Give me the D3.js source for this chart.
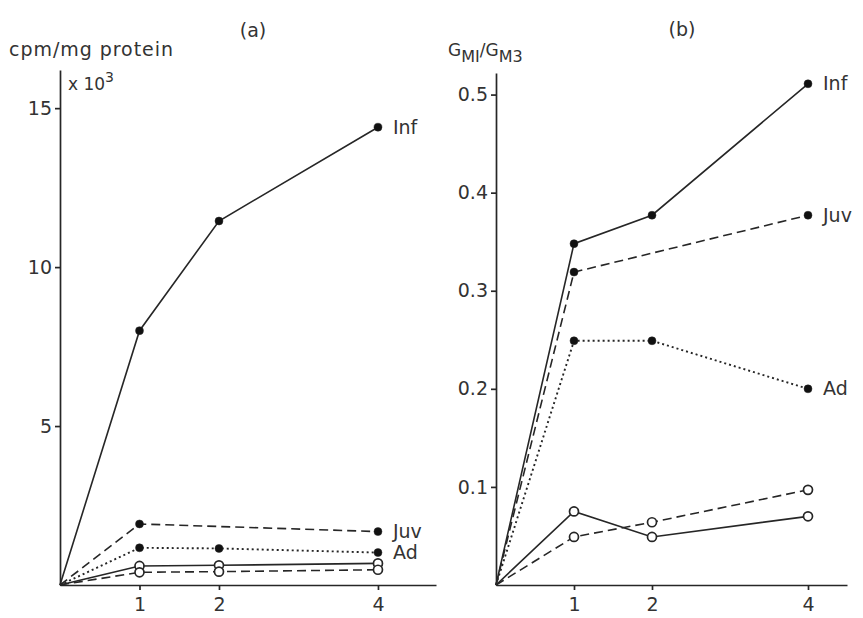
<!DOCTYPE html>
<html>
<head>
<meta charset="utf-8">
<script src="https://cdn.jsdelivr.net/npm/d3@7"></script>
<style>
  body { margin: 0; background: #fff; }
  svg { font-family: "DejaVu Sans", sans-serif; }
</style>
</head>
<body>
<div id="chart"></div>
<script>
// time points
const days = [0, 1, 2, 4];
const daysJuv = [0, 1, 4];
const xTicks = [1, 2, 4];

// (a) cpm/mg protein x 10^3
const infA = [0, 8.0, 11.45, 14.4];
const juvA = [0, 1.92, 1.68];
const adA = [0, 1.17, 1.15, 1.02];
const openSolidA = [0, 0.6, 0.62, 0.68];
const openDashA = [0, 0.4, 0.42, 0.48];
const yTicksA = [5, 10, 15];

// (b) GMI/GM3
const infB = [0, 0.348, 0.377, 0.511];
const juvB = [0, 0.319, 0.377];
const adB = [0, 0.249, 0.249, 0.200];
const openSolidB = [0, 0.075, 0.049, 0.070];
const openDashB = [0, 0.049, 0.064, 0.097];
const yTicksB = [0.1, 0.2, 0.3, 0.4, 0.5];

const width = 863, height = 618;
const ink = "#262626";

const svg = d3.select("#chart").append("svg")
  .attr("width", width).attr("height", height);

function panel(opt) {
  const x = d3.scaleLinear().domain([0, opt.xMax]).range(opt.xRange);
  const y = d3.scaleLinear().domain([0, opt.yMax]).range([585, opt.yTop]);
  const g = svg.append("g");

  const xAxis = g.append("g")
    .attr("transform", "translate(0,585)")
    .call(d3.axisBottom(x).tickValues(xTicks).tickSize(5).tickSizeOuter(0).tickPadding(8)
      .tickFormat(d3.format("d")));
  const yAxis = g.append("g")
    .attr("transform", "translate(" + opt.xRange[0] + ",0)")
    .call(d3.axisLeft(y).tickValues(opt.yTicks).tickSize(5).tickSizeOuter(0).tickPadding(3)
      .tickFormat(opt.fmt));
  [xAxis, yAxis].forEach(a => {
    a.attr("font-family", null).attr("font-size", null);
    a.selectAll("path, line").attr("stroke", ink).attr("stroke-width", 1.7);
    a.selectAll("text").attr("fill", "#333").style("font-size", "19px");
  });

  const line = d3.line().x(d => x(d[0])).y(d => y(d[1]));

  opt.series.forEach(s => {
    const pts = s.t.map((t, i) => [t, s.v[i]]);
    g.append("path")
      .datum(pts)
      .attr("d", line)
      .attr("fill", "none")
      .attr("stroke", ink)
      .attr("stroke-width", s.dash === "2,3" ? 1.9 : 1.6)
      .attr("stroke-dasharray", s.dash);
    g.selectAll(null)
      .data(pts.slice(1))
      .enter().append("circle")
      .attr("cx", d => x(d[0]))
      .attr("cy", d => y(d[1]))
      .attr("r", s.open ? 4.5 : 4)
      .attr("fill", s.open ? "#fff" : "#111")
      .attr("stroke", ink)
      .attr("stroke-width", s.open ? 1.7 : 0.5);
    if (s.label) {
      const last = pts[pts.length - 1];
      g.append("text")
        .attr("x", x(last[0]) + 15)
        .attr("y", y(last[1]) + (s.dy || 0))
        .attr("dy", "0.35em")
        .attr("fill", "#333")
        .style("font-size", "19px")
        .text(s.label);
    }
  });
  return { x, y, g };
}

const a = panel({
  xMax: 4.73, xRange: [60, 436],
  yMax: 16.2, yTop: 70,
  yTicks: yTicksA, fmt: d3.format("d"),
  series: [
    { t: days, v: infA, dash: null, label: "Inf" },
    { t: daysJuv, v: juvA, dash: "9,5", label: "Juv" },
    { t: days, v: adA, dash: "2,3", label: "Ad" },
    { t: days, v: openSolidA, dash: null, open: true },
    { t: days, v: openDashA, dash: "9,5", open: true }
  ]
});

const b = panel({
  xMax: 4.5, xRange: [496, 847],
  yMax: 0.522, yTop: 73,
  yTicks: yTicksB, fmt: d3.format(".1f"),
  series: [
    { t: days, v: infB, dash: null, label: "Inf" },
    { t: daysJuv, v: juvB, dash: "9,5", label: "Juv" },
    { t: days, v: adB, dash: "2,3", label: "Ad" },
    { t: days, v: openSolidB, dash: null, open: true },
    { t: days, v: openDashB, dash: "9,5", open: true }
  ]
});

// panel titles and axis labels
svg.append("text").attr("x", 253).attr("y", 37).attr("text-anchor", "middle")
  .attr("fill", "#333").style("font-size", "19px").text("(a)");
svg.append("text").attr("x", 682).attr("y", 36).attr("text-anchor", "middle")
  .attr("fill", "#333").style("font-size", "19px").text("(b)");

svg.append("text").attr("x", 9).attr("y", 56)
  .attr("fill", "#333").style("font-size", "19px").attr("textLength", 164)
  .text("cpm/mg protein");

const mult = svg.append("text").attr("x", 68).attr("y", 90)
  .attr("fill", "#333").style("font-size", "17px");
mult.append("tspan").text("x 10");
mult.append("tspan").attr("dy", -8).style("font-size", "14px").text("3");

const gl = svg.append("text").attr("x", 448).attr("y", 56)
  .attr("fill", "#333").style("font-size", "17px");
gl.append("tspan").text("G");
gl.append("tspan").attr("dy", 6).style("font-size", "16px").text("MI");
gl.append("tspan").attr("dy", -6).text("/G");
gl.append("tspan").attr("dy", 6).style("font-size", "16px").text("M3");
</script>
</body>
</html>
